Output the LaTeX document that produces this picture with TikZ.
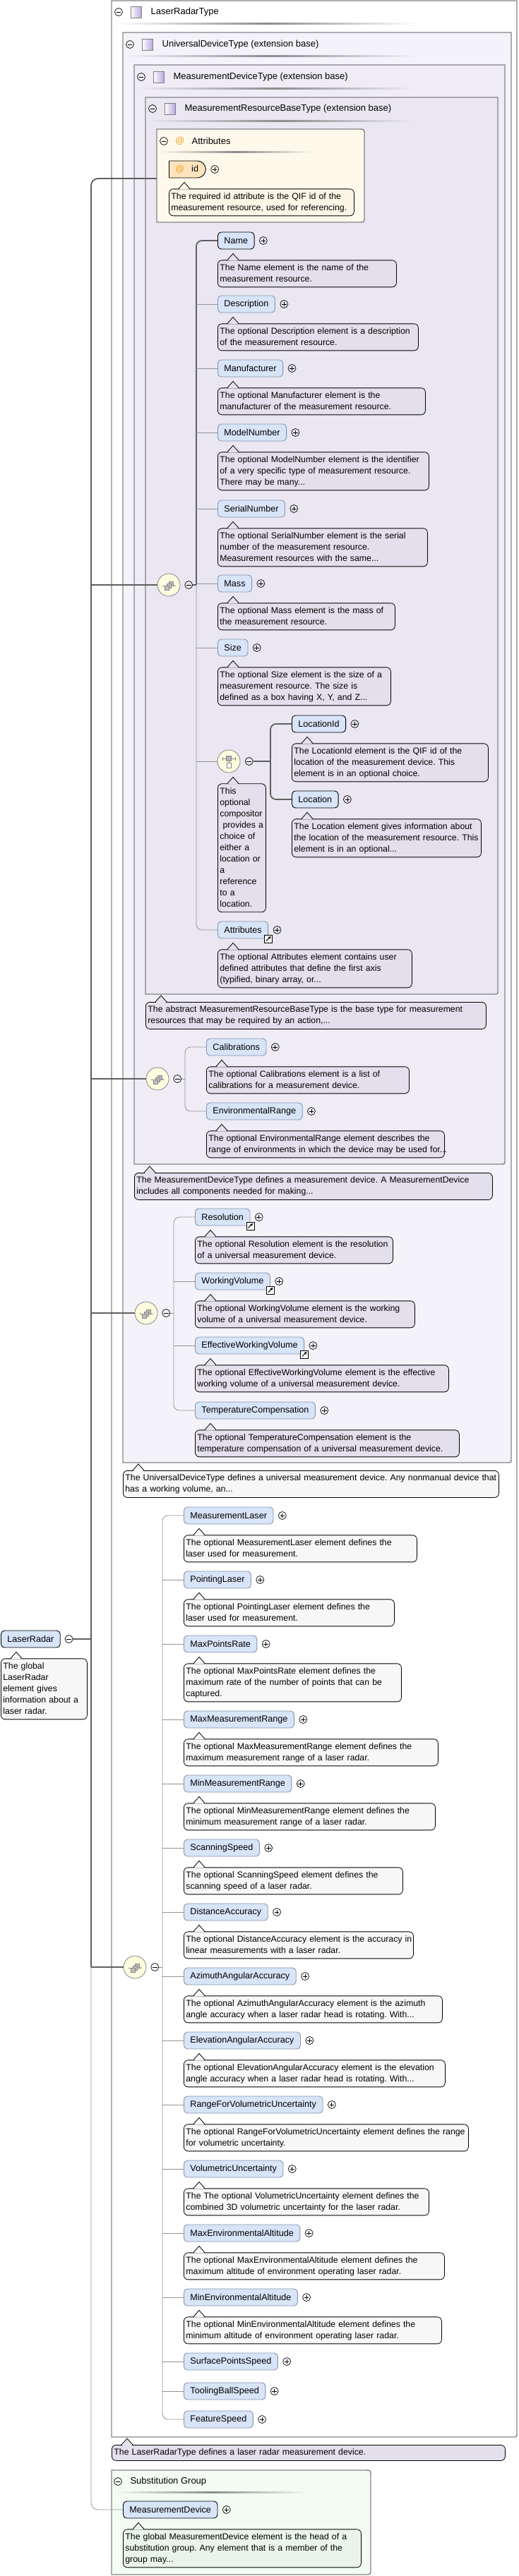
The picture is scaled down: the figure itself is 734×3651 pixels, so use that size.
\documentclass[tikz,border=0pt]{standalone}
\usepackage{fontspec}
\setmainfont{Liberation Sans}
\usetikzlibrary{positioning,arrows.meta,shapes.misc}
\frenchspacing

\definecolor{boxline}{HTML}{858585}
\definecolor{unibg}{HTML}{F5F3FA}
\definecolor{mdbg}{HTML}{EFECF6}
\definecolor{mrbbg}{HTML}{EAE7F2}
\definecolor{attbg}{HTML}{FFF9EC}
\definecolor{sgbg}{HTML}{F2FCF2}
\definecolor{annolav}{HTML}{E4DFEC}
\definecolor{annolight}{HTML}{F7F7F7}
\definecolor{annocream}{HTML}{FBF5E6}
\definecolor{annogreen}{HTML}{E9F5E9}
\definecolor{elfill}{HTML}{D8E4F7}
\definecolor{elline}{HTML}{8795AD}
\definecolor{idfill}{HTML}{FDE4BE}
\definecolor{atsign}{HTML}{F0A020}
\definecolor{compfill}{HTML}{FFFDE0}
\definecolor{linegray}{HTML}{5F5F5F}
\definecolor{sepgray}{HTML}{8C8C8C}
\definecolor{typeviolet}{HTML}{B8A8E0}

\newcommand{\annofont}{\fontsize{12.3}{16}\selectfont}
\newcommand{\labfont}{\fontsize{12.6}{16}\selectfont}
\newcommand{\hdfont}{\fontsize{13}{16}\selectfont}

\begin{document}
\begin{tikzpicture}[x=1pt, y=-1pt,
    tbox/.style={draw=boxline, line width=1.4pt},
    hdr/.style={anchor=west, inner sep=0pt, font=\hdfont},
    typeicon/.style={draw=gray, line width=0.6pt, left color=white, right color=typeviolet,
        minimum width=15pt, minimum height=16pt, inner sep=0pt},
    btn/.style={circle, draw=black, line width=0.7pt, inner sep=0pt, minimum size=11pt},
    plusbtn/.style={btn, path picture={\draw[line width=0.7pt]
        ([xshift=-3.3pt]path picture bounding box.center) -- ([xshift=3.3pt]path picture bounding box.center)
        ([yshift=-3.3pt]path picture bounding box.center) -- ([yshift=3.3pt]path picture bounding box.center);}},
    minusbtn/.style={btn, path picture={\draw[line width=0.7pt]
        ([xshift=-3.3pt]path picture bounding box.center) -- ([xshift=3.3pt]path picture bounding box.center);}},
    el/.style={draw=elline, fill=elfill, line width=0.9pt, rounded corners=5pt, minimum height=24pt,
        inner xsep=9pt, inner ysep=0pt, anchor=west, font=\labfont},
    elreq/.style={el, draw=black},
    idbox/.style={rounded rectangle, rounded rectangle west arc=none, draw=black, fill=idfill,
        line width=0.9pt, minimum height=24pt, inner xsep=9pt, inner ysep=0pt, anchor=west, font=\labfont},
    linkicon/.style={draw=black, fill=white, line width=0.7pt, minimum size=11pt, inner sep=0pt,
        path picture={\draw[line width=1pt, -{Triangle[length=3.5pt, width=3.5pt]}]
          ([shift={(2.5pt,2.5pt)}]path picture bounding box.south west) --
          ([shift={(-2pt,-2pt)}]path picture bounding box.north east);}},
    seqicon/.style={circle, draw=boxline, fill=compfill, line width=0.8pt, minimum size=32pt, inner sep=0pt,
        path picture={
          \begin{scope}[shift={(path picture bounding box.center)}, x=1pt, y=1pt, line width=0.6pt]
            \draw[-{Stealth[length=2.5pt]}] (-10,-1) -- (10,-1);
            \fill (-10,-1) circle (1.1pt);
            \draw[fill=gray!50] (0,-1) rectangle (6,5);
            \draw[fill=gray!50] (-3,-4) rectangle (3,2);
            \draw[fill=gray!50] (-6,-7) rectangle (0,-1);
          \end{scope}}},
    choiceicon/.style={circle, draw=boxline, fill=compfill, line width=0.8pt, minimum size=32pt, inner sep=0pt,
        path picture={
          \begin{scope}[shift={(path picture bounding box.center)}, x=1pt, y=1pt, line width=0.6pt]
            \draw (-9,4) -- (9,4) (-9,6.5) -- (-9,1.5) (9,6.5) -- (9,1.5);
            \draw[fill=gray!60] (-3.5,1) rectangle (3.5,7.5);
            \draw (0,1) -- (0,-2);
            \draw[fill=white] (-3,-9) rectangle (3,-2);
          \end{scope}}},
    anno/.style={draw=black, line width=0.8pt, fill=#1, rounded corners=6pt, anchor=north west,
        inner xsep=3pt, inner ysep=3pt, font=\annofont, align=left,
        execute at begin node={\rightskip=0pt plus 1fil minus 300pt\relax\strut},
        execute at end node={\strut}},
    anno/.default=annolav,
    reqline/.style={draw=linegray, line width=1.8pt},
    optline/.style={draw=gray!85, line width=0.8pt}]

\useasboundingbox (0,0) rectangle (734,3651);

% Type boxes
\draw[tbox, fill=white] (158,1) -- (732,1) -- (732,3448) .. controls (732,3454) .. (726,3454) -- (158,3454) -- cycle;
\draw[tbox, fill=unibg] (174,46) -- (724,46) -- (724,2067) .. controls (724,2073) .. (718,2073) -- (174,2073) -- cycle;
\draw[tbox, fill=mdbg] (190,92) -- (715,92) -- (715,1644) .. controls (715,1650) .. (709,1650) -- (190,1650) -- cycle;
\draw[tbox, fill=mrbbg] (206,138) -- (705,138) -- (705,1403) .. controls (705,1409) .. (699,1409) -- (206,1409) -- cycle;
\draw[tbox, fill=attbg] (222,183) -- (508,183) .. controls (516,183) .. (516,191) -- (516,307) .. controls (516,315) .. (508,315) -- (222,315) -- cycle;
\draw[tbox, fill=sgbg] (158,3501) -- (517,3501) .. controls (525,3501) .. (525,3509) -- (525,3641) .. controls (525,3649) .. (517,3649) -- (158,3649) -- cycle;

% Headers
\node[minusbtn] (hlr) at (168,17) {};
\node[typeicon, right=11pt of hlr] (ilr) {};
\node[hdr, right=13pt of ilr] (tlr) {LaserRadarType};
\shade[left color=white, right color=white, middle color=sepgray] (164,32) rectangle (590,34.5);

\node[minusbtn] (huni) at (184,63) {};
\node[typeicon, right=11pt of huni] (iuni) {};
\node[hdr, right=13pt of iuni] (tuni) {UniversalDeviceType (extension base)};
\shade[left color=unibg, right color=unibg, middle color=sepgray] (178,78) rectangle (588,80.5);

\node[minusbtn] (hmd) at (200,109) {};
\node[typeicon, right=11pt of hmd] (imd) {};
\node[hdr, right=13pt of imd] (tmd) {MeasurementDeviceType (extension base)};
\shade[left color=mdbg, right color=mdbg, middle color=sepgray] (193,124) rectangle (587,126.5);

\node[minusbtn] (hmrb) at (216,154) {};
\node[typeicon, right=11pt of hmrb] (imrb) {};
\node[hdr, right=13pt of imrb] (tmrb) {MeasurementResourceBaseType (extension base)};
\shade[left color=mrbbg, right color=mrbbg, middle color=sepgray] (209,170) rectangle (584,172.5);

\node[minusbtn] (hatt) at (232,200) {};
\node[hdr, text=atsign, right=10pt of hatt] (iatt) {@};
\node[hdr, right=10pt of iatt] (tatt) {Attributes};
\shade[left color=attbg, right color=attbg, middle color=sepgray] (227,214) rectangle (441,216.5);

\node[minusbtn] (hsg) at (167,3517) {};
\node[hdr, right=11.5pt of hsg] (tsg) {Substitution Group};
\shade[left color=sgbg, right color=sgbg, middle color=sepgray] (162,3531) rectangle (436,3533.5);

% Attribute id
\node[idbox] (id) at (239,240) {\textcolor{atsign}{@}\hspace{10pt}id\hspace{4pt}};
\node[plusbtn, right=6.5pt of id] (idp) {};
\node[anno=annocream, text width=256pt, below right=15pt and 0pt of id.south west] (aid) {The required id attribute is the QIF id of the\\measurement resource, used for referencing.};

% Sequence of MeasurementResourceBaseType
\node[seqicon] (seq1) at (239,829) {};
\node[minusbtn, right=6pt of seq1] (s1m) {};

\node[elreq] (name) at (308,341) {Name};
\node[plusbtn, right=6.5pt of name] (namep) {};
\node[anno, text width=247pt, below right=15pt and 0pt of name.south west] (aname) {The Name element is the name of the\\measurement resource.};

\node[el] (desc) at (308,431) {Description};
\node[plusbtn, right=6.5pt of desc] (descp) {};
\node[anno, text width=278pt, below right=15pt and 0pt of desc.south west] (adesc) {The optional Description element is a description\\of the measurement resource.};

\node[el] (manuf) at (308,522) {Manufacturer};
\node[plusbtn, right=6.5pt of manuf] (manufp) {};
\node[anno, text width=288pt, below right=15pt and 0pt of manuf.south west] (amanuf) {The optional Manufacturer element is the\\manufacturer of the measurement resource.};

\node[el] (model) at (308,613) {ModelNumber};
\node[plusbtn, right=6.5pt of model] (modelp) {};
\node[anno, text width=293pt, below right=15pt and 0pt of model.south west] (amodel) {The optional ModelNumber element is the identifier\\of a very specific type of measurement resource.\\There may be many...};

\node[el] (serial) at (308,721) {SerialNumber};
\node[plusbtn, right=6.5pt of serial] (serialp) {};
\node[anno, text width=291pt, below right=15pt and 0pt of serial.south west] (aserial) {The optional SerialNumber element is the serial\\number of the measurement resource.\\Measurement resources with the same...};

\node[el] (mass) at (308,827) {Mass};
\node[plusbtn, right=6.5pt of mass] (massp) {};
\node[anno, text width=245pt, below right=15pt and 0pt of mass.south west] (amass) {The optional Mass element is the mass of\\the measurement resource.};

\node[el] (size) at (308,918) {Size};
\node[plusbtn, right=6.5pt of size] (sizep) {};
\node[anno, text width=239pt, below right=15pt and 0pt of size.south west] (asize) {The optional Size element is the size of a\\measurement resource. The size is\\defined as a box having X, Y, and Z...};

% Choice of location
\node[choiceicon] (ch) at (324,1079) {};
\node[minusbtn, right=6.5pt of ch] (chm) {};
\node[anno, text width=62pt, below right=15pt and -16pt of ch.south] (ach) {This\\optional\\compositor\\\ provides a\\choice of\\either a\\location or\\a\\reference\\to a\\location.};

\node[elreq] (locid) at (413,1026) {LocationId};
\node[plusbtn, right=6.5pt of locid] (locidp) {};
\node[anno, text width=272pt, below right=15pt and 0pt of locid.south west] (alocid) {The LocationId element is the QIF id of the\\location of the measurement device. This\\element is in an optional choice.};

\node[elreq] (loc) at (413,1133) {Location};
\node[plusbtn, right=6.5pt of loc] (locp) {};
\node[anno, text width=262pt, below right=15pt and 0pt of loc.south west] (aloc) {The Location element gives information about\\the location of the measurement resource. This\\element is in an optional...};

\node[el] (attrs) at (308,1318) {Attributes};
\node[linkicon] (attrsl) at (attrs.south east) {};
\node[plusbtn, right=6.5pt of attrs] (attrsp) {};
\node[anno, text width=269pt, below right=15pt and 0pt of attrs.south west] (aattrs) {The optional Attributes element contains user\\defined attributes that define the first axis\\(typified, binary array, or...};

\node[anno, text width=476pt] (amrb) at (206,1420) {The abstract MeasurementResourceBaseType is the base type for measurement\\resources that may be required by an action,...};

% Sequence of MeasurementDeviceType
\node[seqicon] (seq2) at (223,1529) {};
\node[minusbtn, right=6pt of seq2] (s2m) {};

\node[el] (calib) at (292,1484) {Calibrations};
\node[plusbtn, right=6.5pt of calib] (calibp) {};
\node[anno, text width=281pt, below right=15pt and 0pt of calib.south west] (acal) {The optional Calibrations element is a list of\\calibrations for a measurement device.};

\node[el] (env) at (292,1575) {EnvironmentalRange};
\node[plusbtn, right=6.5pt of env] (envp) {};
\node[anno, text width=331pt, below right=15pt and 0pt of env.south west] (aenv) {The optional EnvironmentalRange element describes the\\range of environments in which the device may be used for...};

\node[anno, text width=501pt] (amd) at (190,1662) {The MeasurementDeviceType defines a measurement device. A MeasurementDevice\\includes all components needed for making...};

% Sequence of UniversalDeviceType
\node[seqicon] (seq3) at (207,1861) {};
\node[minusbtn, right=6pt of seq3] (s3m) {};

\node[el] (res) at (276,1725) {Resolution};
\node[linkicon] (resl) at (res.south east) {};
\node[plusbtn, right=6.5pt of res] (resp) {};
\node[anno, text width=274pt, below right=15pt and 0pt of res.south west] (ares) {The optional Resolution element is the resolution\\of a universal measurement device.};

\node[el] (wv) at (276,1816) {WorkingVolume};
\node[linkicon] (wvl) at (wv.south east) {};
\node[plusbtn, right=6.5pt of wv] (wvp) {};
\node[anno, text width=305pt, below right=15pt and 0pt of wv.south west] (awv) {The optional WorkingVolume element is the working\\volume of a universal measurement device.};

\node[el] (ewv) at (276,1907) {EffectiveWorkingVolume};
\node[linkicon] (ewvl) at (ewv.south east) {};
\node[plusbtn, right=6.5pt of ewv] (ewvp) {};
\node[anno, text width=353pt, below right=15pt and 0pt of ewv.south west] (aewv) {The optional EffectiveWorkingVolume element is the effective\\working volume of a universal measurement device.};

\node[el] (tc) at (276,1999) {TemperatureCompensation};
\node[plusbtn, right=6.5pt of tc] (tcp) {};
\node[anno, text width=368pt, below right=15pt and 0pt of tc.south west] (atc) {The optional TemperatureCompensation element is the\\temperature compensation of a universal measurement device.};

\node[anno=annolight, text width=526pt] (auni) at (174,2084) {The UniversalDeviceType defines a universal measurement device. Any nonmanual device that\\has a working volume, an...};

% Sequence of LaserRadarType
\node[seqicon] (seq4) at (191,2788) {};
\node[minusbtn, right=6pt of seq4] (s4m) {};

\node[el] (ml) at (260,2148) {MeasurementLaser};
\node[plusbtn, right=6.5pt of ml] (mlp) {};
\node[anno=annolight, text width=324pt, below right=15pt and 0pt of ml.south west] (aml) {The optional MeasurementLaser element defines the\\laser used for measurement.};

\node[el] (pl) at (260,2239) {PointingLaser};
\node[plusbtn, right=6.5pt of pl] (plp) {};
\node[anno=annolight, text width=292pt, below right=15pt and 0pt of pl.south west] (apl) {The optional PointingLaser element defines the\\laser used for measurement.};

\node[el] (mpr) at (260,2330) {MaxPointsRate};
\node[plusbtn, right=6.5pt of mpr] (mprp) {};
\node[anno=annolight, text width=302pt, below right=15pt and 0pt of mpr.south west] (ampr) {The optional MaxPointsRate element defines the\\maximum rate of the number of points that can be\\captured.};

\node[el] (mxr) at (260,2437) {MaxMeasurementRange};
\node[plusbtn, right=6.5pt of mxr] (mxrp) {};
\node[anno=annolight, text width=354pt, below right=15pt and 0pt of mxr.south west] (amxr) {The optional MaxMeasurementRange element defines the\\maximum measurement range of a laser radar.};

\node[el] (mnr) at (260,2528) {MinMeasurementRange};
\node[plusbtn, right=6.5pt of mnr] (mnrp) {};
\node[anno=annolight, text width=350pt, below right=15pt and 0pt of mnr.south west] (amnr) {The optional MinMeasurementRange element defines the\\minimum measurement range of a laser radar.};

\node[el] (ss) at (260,2619) {ScanningSpeed};
\node[plusbtn, right=6.5pt of ss] (ssp) {};
\node[anno=annolight, text width=304pt, below right=15pt and 0pt of ss.south west] (ass) {The optional ScanningSpeed element defines the\\scanning speed of a laser radar.};

\node[el] (da) at (260,2710) {DistanceAccuracy};
\node[plusbtn, right=6.5pt of da] (dap) {};
\node[anno=annolight, text width=319pt, below right=15pt and 0pt of da.south west] (ada) {The optional DistanceAccuracy element is the accuracy in\\linear measurements with a laser radar.};

\node[el] (aaa) at (260,2801) {AzimuthAngularAccuracy};
\node[plusbtn, right=6.5pt of aaa] (aaap) {};
\node[anno=annolight, text width=360pt, below right=15pt and 0pt of aaa.south west] (aaaa) {The optional AzimuthAngularAccuracy element is the azimuth\\angle accuracy when a laser radar head is rotating. With...};

\node[el] (eaa) at (260,2892) {ElevationAngularAccuracy};
\node[plusbtn, right=6.5pt of eaa] (eaap) {};
\node[anno=annolight, text width=364pt, below right=15pt and 0pt of eaa.south west] (aeaa) {The optional ElevationAngularAccuracy element is the elevation\\angle accuracy when a laser radar head is rotating. With...};

\node[el] (rvu) at (260,2983) {RangeForVolumetricUncertainty};
\node[plusbtn, right=6.5pt of rvu] (rvup) {};
\node[anno=annolight, text width=397pt, below right=15pt and 0pt of rvu.south west] (arvu) {The optional RangeForVolumetricUncertainty element defines the range\\for volumetric uncertainty.};

\node[el] (vu) at (260,3074) {VolumetricUncertainty};
\node[plusbtn, right=6.5pt of vu] (vup) {};
\node[anno=annolight, text width=341pt, below right=15pt and 0pt of vu.south west] (avu) {The The optional VolumetricUncertainty element defines the\\combined 3D volumetric uncertainty for the laser radar.};

\node[el] (mxa) at (260,3165) {MaxEnvironmentalAltitude};
\node[plusbtn, right=6.5pt of mxa] (mxap) {};
\node[anno=annolight, text width=363pt, below right=15pt and 0pt of mxa.south west] (amxa) {The optional MaxEnvironmentalAltitude element defines the\\maximum altitude of environment operating laser radar.};

\node[el] (mna) at (260,3256) {MinEnvironmentalAltitude};
\node[plusbtn, right=6.5pt of mna] (mnap) {};
\node[anno=annolight, text width=359pt, below right=15pt and 0pt of mna.south west] (amna) {The optional MinEnvironmentalAltitude element defines the\\minimum altitude of environment operating laser radar.};

\node[el] (sps) at (260,3347) {SurfacePointsSpeed};
\node[plusbtn, right=6.5pt of sps] (spsp) {};

\node[el] (tbs) at (260,3389) {ToolingBallSpeed};
\node[plusbtn, right=6.5pt of tbs] (tbsp) {};

\node[el] (fs) at (260,3429) {FeatureSpeed};
\node[plusbtn, right=6.5pt of fs] (fsp) {};

\node[anno, text width=551pt] (alrt) at (158,3465) {The LaserRadarType defines a laser radar measurement device.};

% Global element
\node[elreq] (lr) at (1,2323) {LaserRadar};
\node[minusbtn, right=6pt of lr] (lrm) {};
\node[anno=annolight, text width=116pt, below right=15pt and 0pt of lr.south west] (alr) {The global\\LaserRadar\\element gives\\information about a\\laser radar.};

% Substitution group
\node[elreq] (smd) at (174,3557) {MeasurementDevice};
\node[plusbtn, right=6.5pt of smd] (smdp) {};
\node[anno=annogreen, text width=331pt, below right=15pt and 0pt of smd.south west] (asmd) {The global MeasurementDevice element is the head of a\\substitution group. Any element that is a member of the\\group may...};

% Main connectors
\coordinate (attw) at (222,253);
\coordinate (sp) at (129,253);
\draw[reqline, rounded corners=10pt] (attw) -- (sp) -- (sp |- seq4);
\draw[optline, rounded corners=10pt] (sp |- seq4) -- (sp |- smd) -- (smd.west);
\draw[reqline] (lrm.east) -- (sp |- lrm);
\draw[reqline] (sp |- seq1) -- (seq1.west);
\draw[reqline] (sp |- seq2) -- (seq2.west);
\draw[reqline] (sp |- seq3) -- (seq3.west);
\draw[reqline] (sp |- seq4) -- (seq4.west);

% Sequence 1
\coordinate (s1x) at (278,829);
\draw[reqline] (s1m.east) -- (s1x);
\draw[reqline, rounded corners=8pt] (s1x) -- (s1x |- name) -- (name.west);
\draw[optline, rounded corners=8pt] (s1x) -- (s1x |- attrs) -- (attrs.west);
\draw[optline] (s1x |- desc) -- (desc.west);
\draw[optline] (s1x |- manuf) -- (manuf.west);
\draw[optline] (s1x |- model) -- (model.west);
\draw[optline] (s1x |- serial) -- (serial.west);
\draw[optline] (s1x |- mass) -- (mass.west);
\draw[optline] (s1x |- size) -- (size.west);
\draw[optline] (s1x |- ch) -- (ch.west);

% Choice
\coordinate (cx) at (383,1079);
\draw[reqline] (chm.east) -- (cx);
\draw[reqline, rounded corners=8pt] (locid.west) -- (cx |- locid) -- (cx |- loc) -- (loc.west);

% Sequence 2
\coordinate (s2x) at (262,1529);
\draw[optline] (s2m.east) -- (s2x);
\draw[optline, rounded corners=8pt] (calib.west) -- (s2x |- calib) -- (s2x |- env) -- (env.west);

% Sequence 3
\coordinate (s3x) at (246,1861);
\draw[optline] (s3m.east) -- (s3x);
\draw[optline, rounded corners=8pt] (res.west) -- (s3x |- res) -- (s3x |- tc) -- (tc.west);
\draw[optline] (s3x |- wv) -- (wv.west);
\draw[optline] (s3x |- ewv) -- (ewv.west);

% Sequence 4
\coordinate (s4x) at (230,2788);
\draw[optline] (s4m.east) -- (s4x);
\draw[optline, rounded corners=8pt] (ml.west) -- (s4x |- ml) -- (s4x |- fs) -- (fs.west);
\draw[optline] (s4x |- pl) -- (pl.west);
\draw[optline] (s4x |- mpr) -- (mpr.west);
\draw[optline] (s4x |- mxr) -- (mxr.west);
\draw[optline] (s4x |- mnr) -- (mnr.west);
\draw[optline] (s4x |- ss) -- (ss.west);
\draw[optline] (s4x |- da) -- (da.west);
\draw[optline] (s4x |- aaa) -- (aaa.west);
\draw[optline] (s4x |- eaa) -- (eaa.west);
\draw[optline] (s4x |- rvu) -- (rvu.west);
\draw[optline] (s4x |- vu) -- (vu.west);
\draw[optline] (s4x |- mxa) -- (mxa.west);
\draw[optline] (s4x |- mna) -- (mna.west);
\draw[optline] (s4x |- sps) -- (sps.west);
\draw[optline] (s4x |- tbs) -- (tbs.west);

% Callout tips
\foreach \a/\c in {aid/annocream, aname/annolav, adesc/annolav, amanuf/annolav, amodel/annolav,
    aserial/annolav, amass/annolav, asize/annolav, ach/annolav, alocid/annolav, aloc/annolav,
    aattrs/annolav, amrb/annolav, acal/annolav, aenv/annolav, amd/annolav, ares/annolav,
    awv/annolav, aewv/annolav, atc/annolav, alrt/annolav, auni/annolight, aml/annolight,
    apl/annolight, ampr/annolight, amxr/annolight, amnr/annolight, ass/annolight, ada/annolight,
    aaaa/annolight, aeaa/annolight, arvu/annolight, avu/annolight, amxa/annolight,
    amna/annolight, alr/annolight, asmd/annogreen} {
  \fill[\c] ([xshift=14.8pt,yshift=-1pt]\a.north west) -- ++(7.2pt,9.8pt) -- ++(7.2pt,-9.8pt) -- cycle;
  \draw[line width=0.8pt] ([xshift=14pt]\a.north west) -- ++(8pt,9pt) -- ++(8pt,-9pt);
}

\end{tikzpicture}
\end{document}
